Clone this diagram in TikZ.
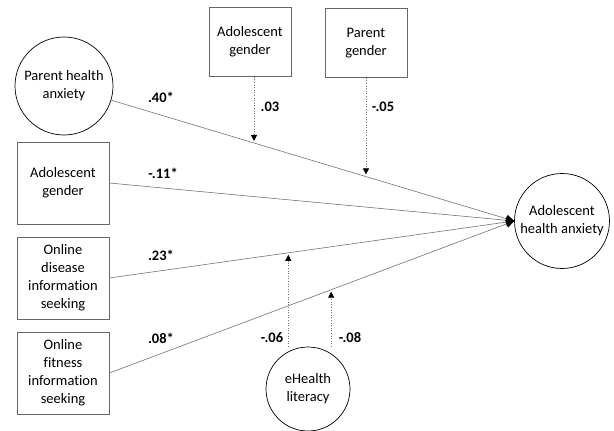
\documentclass[tikz,border=0pt]{standalone}
\usepackage{fontspec}
\setmainfont[Ligatures=NoCommon]{Carlito}
\usetikzlibrary{arrows.meta}

\newcommand{\diagfont}{\fontsize{14.5}{18}\selectfont}

\tikzset{
  latent/.style={circle,draw,line width=0.7pt,align=center,inner sep=0pt},
  observed/.style={rectangle,draw=black!60,line width=0.7pt,align=center,inner sep=0pt},
  effect/.style={draw=black!55,line width=0.6pt,-{Triangle[length=8pt,width=8pt,color=black]}},
  moderator/.style={draw=black!55,dotted,line width=0.6pt,shorten >=2pt,-{Triangle[length=6pt,width=6pt,color=black]}},
  coef/.style={font=\diagfont\bfseries}
}

\begin{document}
\begin{tikzpicture}[x=1pt,y=-1pt,font=\diagfont]
\useasboundingbox (0,0) rectangle (614,431);

% variables
\node[latent,minimum size=98pt] (pha) at (64,86) {Parent health\\anxiety};
\node[observed,minimum width=92pt,minimum height=82pt] (agen) at (63,183) {Adolescent\\gender};
\node[observed,minimum width=92pt,minimum height=82pt] (dis) at (63,278) {Online\\disease\\information\\seeking};
\node[observed,minimum width=92pt,minimum height=82pt] (fit) at (63,373) {Online\\fitness\\information\\seeking};
\node[latent,minimum size=95pt] (aha) at (562,221) {Adolescent\\health anxiety};

% moderators
\node[observed,minimum width=82pt,minimum height=69pt] (agmod) at (250,42) {Adolescent\\gender};
\node[observed,minimum width=82pt,minimum height=69pt] (pgen) at (366,43) {Parent\\gender};
\node[latent,minimum size=84pt] (ehl) at (308,389) {eHealth\\literacy};

% main effects
\draw[effect] (pha) -- (aha.west) coordinate[pos=0.354] (m1) coordinate[pos=0.631] (m2);
\draw[effect] (agen.east) -- (aha.west);
\draw[effect] (dis.east) -- (aha.west) coordinate[pos=0.442] (m3);
\draw[effect] (fit.east) -- (aha.west) coordinate[pos=0.548] (m4);

% moderation
\draw[moderator] ([xshift=4pt]agmod.south) -- ([xshift=4pt]agmod.south |- m1);
\draw[moderator] (pgen.south) -- (pgen.south |- m2);
\draw[moderator] (m3 |- ehl.north) -- (m3);
\draw[moderator] (m4 |- ehl.north) -- (m4);

% coefficients
\node[coef] (c1) at (161,97) {.40*};
\node[coef] (c2) at (163,173) {-.11*};
\node[coef] (c3) at (161,255) {.23*};
\node[coef] (c4) at (161,338) {.08*};
\node[coef] (c5) at (270,107) {.03};
\node[coef] (c6) at (383,107) {-.05};
\node[coef] (c7) at (272,338) {-.06};
\node[coef] (c8) at (350,338) {-.08};
\end{tikzpicture}
\end{document}
